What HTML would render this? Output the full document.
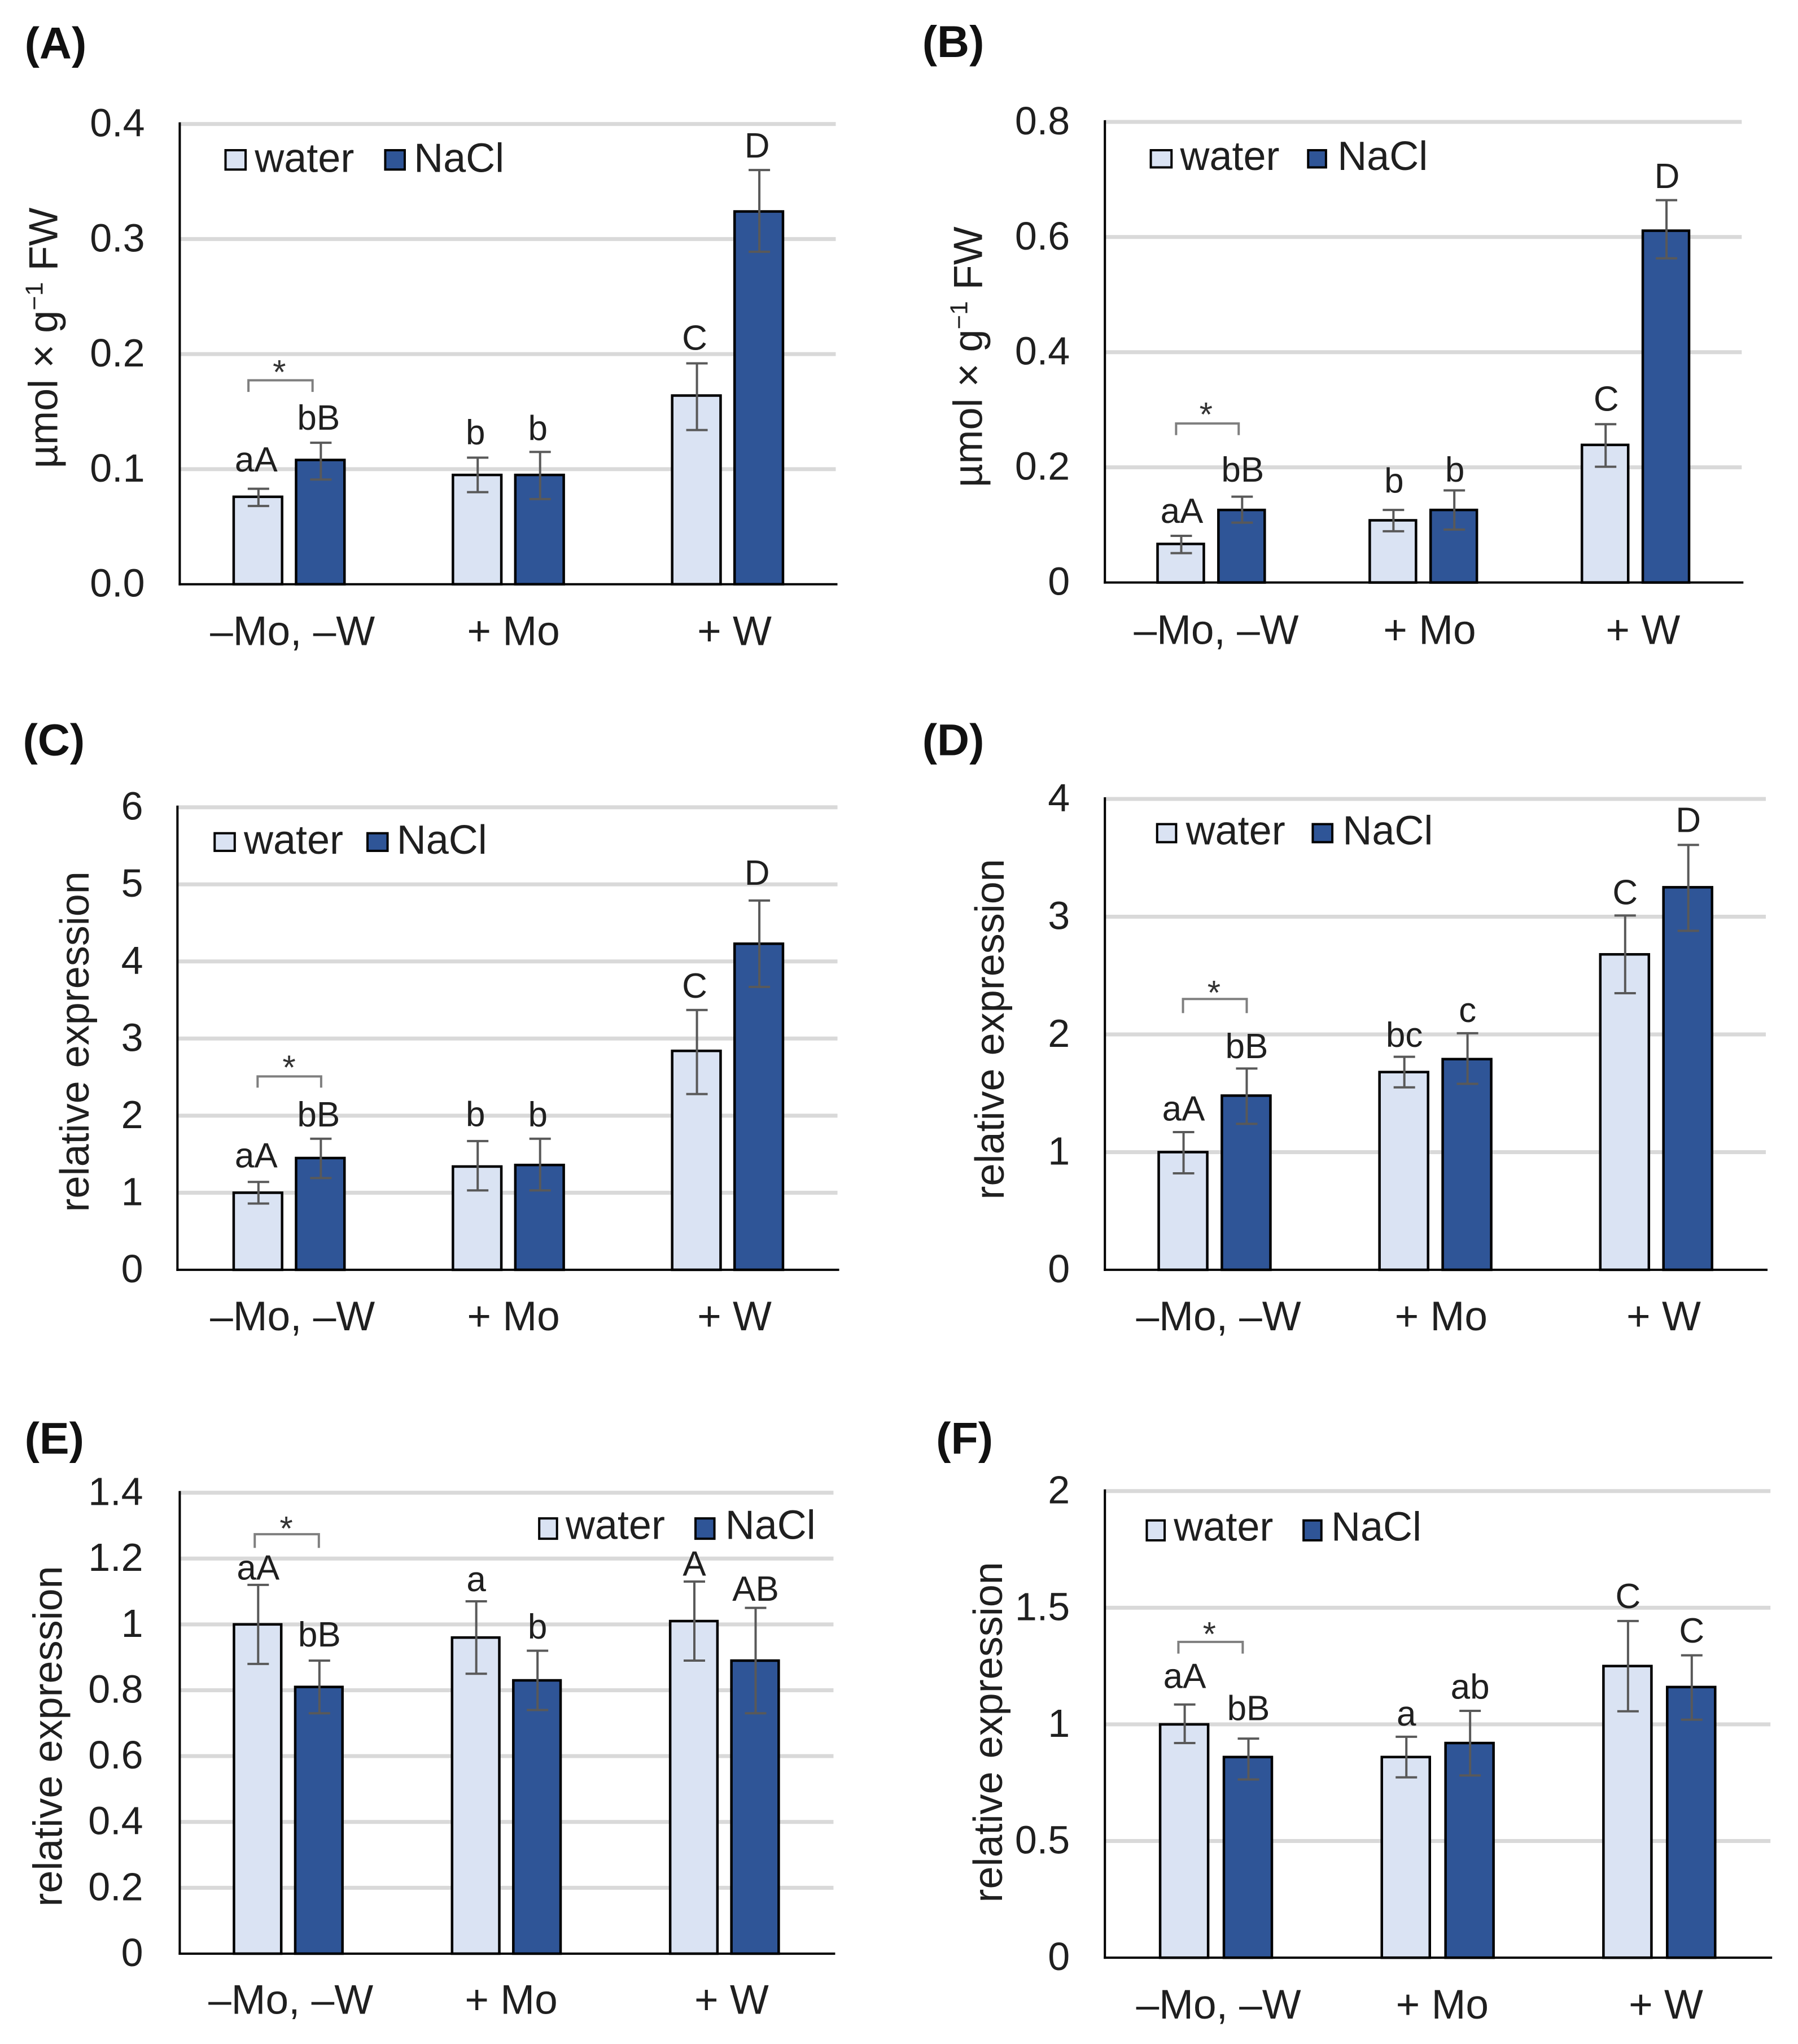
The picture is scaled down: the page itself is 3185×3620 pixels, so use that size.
<!DOCTYPE html>
<html lang="en">
<head>
<meta charset="utf-8">
<title>Six bar chart panels</title>
<style>
html,body{margin:0;padding:0;background:#fff;}
#figure{display:block;width:3185px;height:3620px;}
text{font-family:"Liberation Sans",Arial,sans-serif;}
</style>
</head>
<body>
<svg id="figure" xmlns="http://www.w3.org/2000/svg" width="3185" height="3620" viewBox="0 0 3185 3620"></svg>
<script>
const categories = ['–Mo, –W', '+ Mo', '+ W'];
const seriesNames = ['water', 'NaCl'];

const aTickLabels = ['0.0', '0.1', '0.2', '0.3', '0.4'];
const aWater = [0.076, 0.095, 0.164];
const aNaCl = [0.108, 0.095, 0.324];
const aWaterHigh = [0.083, 0.110, 0.192];
const aWaterLow = [0.068, 0.080, 0.134];
const aNaClHigh = [0.123, 0.115, 0.360];
const aNaClLow = [0.091, 0.074, 0.289];
const aWaterLetters = ['aA', 'b', 'C'];
const aNaClLetters = ['bB', 'b', 'D'];

const bTickLabels = ['0', '0.2', '0.4', '0.6', '0.8'];
const bWater = [0.067, 0.108, 0.239];
const bNaCl = [0.126, 0.126, 0.611];
const bWaterHigh = [0.081, 0.126, 0.275];
const bWaterLow = [0.051, 0.089, 0.201];
const bNaClHigh = [0.149, 0.160, 0.664];
const bNaClLow = [0.104, 0.092, 0.563];
const bWaterLetters = ['aA', 'b', 'C'];
const bNaClLetters = ['bB', 'b', 'D'];

const cTickLabels = ['0', '1', '2', '3', '4', '5', '6'];
const cWater = [1.00, 1.34, 2.84];
const cNaCl = [1.45, 1.36, 4.23];
const cWaterHigh = [1.14, 1.67, 3.37];
const cWaterLow = [0.86, 1.03, 2.28];
const cNaClHigh = [1.70, 1.70, 4.79];
const cNaClLow = [1.19, 1.03, 3.67];
const cWaterLetters = ['aA', 'b', 'C'];
const cNaClLetters = ['bB', 'b', 'D'];

const dTickLabels = ['0', '1', '2', '3', '4'];
const dWater = [1.00, 1.68, 2.68];
const dNaCl = [1.48, 1.79, 3.25];
const dWaterHigh = [1.17, 1.81, 3.01];
const dWaterLow = [0.82, 1.55, 2.35];
const dNaClHigh = [1.71, 2.01, 3.61];
const dNaClLow = [1.24, 1.58, 2.88];
const dWaterLetters = ['aA', 'bc', 'C'];
const dNaClLetters = ['bB', 'c', 'D'];

const eTickLabels = ['0', '0.2', '0.4', '0.6', '0.8', '1', '1.2', '1.4'];
const eWater = [1.00, 0.96, 1.01];
const eNaCl = [0.81, 0.83, 0.89];
const eWaterHigh = [1.12, 1.07, 1.13];
const eWaterLow = [0.88, 0.85, 0.89];
const eNaClHigh = [0.89, 0.92, 1.05];
const eNaClLow = [0.73, 0.74, 0.73];
const eWaterLetters = ['aA', 'a', 'A'];
const eNaClLetters = ['bB', 'b', 'AB'];

const fTickLabels = ['0', '0.5', '1', '1.5', '2'];
const fWater = [1.00, 0.86, 1.25];
const fNaCl = [0.86, 0.92, 1.16];
const fWaterHigh = [1.085, 0.947, 1.443];
const fWaterLow = [0.92, 0.773, 1.056];
const fNaClHigh = [0.939, 1.058, 1.296];
const fNaClLow = [0.764, 0.781, 1.02];
const fWaterLetters = ['aA', 'a', 'C'];
const fNaClLetters = ['bB', 'ab', 'C'];

const SVGNS = 'http://www.w3.org/2000/svg';
const root = document.getElementById('figure');
const WATER_FILL = '#dae3f3';
const NACL_FILL = '#2f5597';
const TEXT_COLOR = '#1f1f1f';

function make(parent, tag, attrs, text) {
  const el = document.createElementNS(SVGNS, tag);
  for (const k in attrs) el.setAttribute(k, attrs[k]);
  if (text !== undefined) el.textContent = text;
  parent.appendChild(el);
  return el;
}

function drawPanel(p) {
  const X = z => p.ox + z * p.sx;
  const Y = z => p.oy + z * p.sy;
  const tickValues = p.tickLabels.map(parseFloat);
  const yMax = tickValues[tickValues.length - 1];
  const base = Y(p.baseZ), top = Y(p.topZ);
  const yScale = v => base - (v / yMax) * (base - top);
  const groupX = i => X(p.groupZ + i * p.stepZ);
  const barX = (i, s) => groupX(i) + (s === 0 ? -1 : 1) * p.halfZ * p.sx;
  const barW = p.barZ * p.sx;

  const panel = make(root, 'g', {});
  
  

  const title = make(panel, 'text', {x: X(p.titleX), y: Y(p.titleY), 'font-size': 79, 'font-weight': 'bold', fill: '#111'}, '(' + p.id + ')');
  
  

  tickValues.forEach((v, i) => {
    if (i > 0) {
      const grid = make(panel, 'line', {x1: X(p.axisZ), x2: X(p.rightZ), y1: yScale(v), y2: yScale(v), stroke: '#d9d9d9', 'stroke-width': 7});
      
      
    }
    const tick = make(panel, 'text', {x: X(p.tickRightZ), y: yScale(v) + 22, 'font-size': 70, 'text-anchor': 'end', fill: TEXT_COLOR}, p.tickLabels[i]);
    
    
  });

  [p.water, p.nacl].forEach((vals, s) => {
    vals.forEach((v, i) => {
      const sw = 4.5;
      const bar = make(panel, 'rect', {
        x: barX(i, s) - barW / 2 + sw / 2,
        y: yScale(v),
        width: barW - sw,
        height: base - yScale(v),
        fill: s === 0 ? WATER_FILL : NACL_FILL,
        stroke: '#000',
        'stroke-width': sw
      });
      
      
    });
  });

  const yAxis = make(panel, 'line', {x1: X(p.axisZ), x2: X(p.axisZ), y1: top - 3, y2: base + 2, stroke: '#000', 'stroke-width': 4});
  
  
  const xAxis = make(panel, 'line', {x1: X(p.axisZ) - 2, x2: X(p.rightZ) + 3, y1: base, y2: base, stroke: '#000', 'stroke-width': 4});
  
  

  [[p.waterHigh, p.waterLow, p.waterLetters, p.waterGaps], [p.naclHigh, p.naclLow, p.naclLetters, p.naclGaps]].forEach((set, s) => {
    set[0].forEach((hi, i) => {
      const lo = set[1][i];
      const cx = barX(i, s) + 1;
      const err = make(panel, 'path', {
        d: 'M' + (cx - 19) + ' ' + yScale(hi) + 'H' + (cx + 19) + 'M' + cx + ' ' + yScale(hi) + 'V' + yScale(lo) + 'M' + (cx - 19) + ' ' + yScale(lo) + 'H' + (cx + 19),
        fill: 'none', stroke: '#595959', 'stroke-width': 4
      });
      
      
      const letter = make(panel, 'text', {
        x: cx + p.labelDx,
        y: yScale(hi) - set[3][i] * p.sy,
        'font-size': 62,
        'text-anchor': 'middle',
        fill: TEXT_COLOR
      }, set[2][i]);
      
      
    });
  });

  categories.forEach((c, i) => {
    const label = make(panel, 'text', {x: X(p.catZ[0] + i * p.catZ[1]), y: Y(p.catY), 'font-size': 73, 'text-anchor': 'middle', fill: TEXT_COLOR}, c);
    
    
  });

  const yTitle = make(panel, 'text', {
    transform: 'translate(' + X(p.yTitleX) + ' ' + Y(p.yTitleY) + ') rotate(-90)',
    'font-size': 72, 'text-anchor': 'middle', fill: TEXT_COLOR
  });
  
  
  if (p.unit) {
    make(yTitle, 'tspan', {}, 'µmol × g');
    make(yTitle, 'tspan', {dy: -26, 'font-size': 44}, '−1');
    make(yTitle, 'tspan', {dy: 26}, '\u00a0FW');
  } else {
    yTitle.setAttribute('word-spacing', 3);
    yTitle.textContent = 'relative expression';
  }

  const swY = Y(p.leg.y1), swH = Y(p.leg.y2) - swY;
  [[p.leg.s1, p.leg.s1e, p.leg.t1, WATER_FILL], [p.leg.s2, p.leg.s2e, p.leg.t2, NACL_FILL]].forEach((l, s) => {
    const sw = make(panel, 'rect', {x: X(l[0]) + 2, y: swY + 2, width: (l[1] - l[0]) * p.sx - 4, height: swH - 4, fill: l[3], stroke: '#000', 'stroke-width': 4});
    
    
    const lt = make(panel, 'text', {x: X(l[2]), y: Y(p.leg.base), 'font-size': 72, fill: TEXT_COLOR}, seriesNames[s]);
    
    
  });

  const br = p.bracket;
  const bracket = make(panel, 'path', {
    d: 'M' + X(br.x1) + ' ' + Y(br.bottom) + 'V' + Y(br.top) + 'H' + X(br.x2) + 'V' + Y(br.bottom),
    fill: 'none', stroke: '#7f7f7f', 'stroke-width': 4
  });
  
  
  const star = make(panel, 'text', {x: X(br.starX), y: Y(br.starY) + 29, 'font-size': 60, 'text-anchor': 'middle', fill: '#333333'}, '*');
  
  
}

const SX_L = 1590 / 1568, SX_R = 1595 / 1568;

drawPanel({
  id: 'A', ox: 0, oy: 0, sx: SX_L, sy: 1200 / 1568, unit: true,
  tickLabels: aTickLabels, water: aWater, nacl: aNaCl, waterHigh: aWaterHigh, waterLow: aWaterLow, naclHigh: aNaClHigh, naclLow: aNaClLow,
  waterLetters: aWaterLetters, naclLetters: aNaClLetters, waterGaps: [40, 31, 31], naclGaps: [30, 27, 29], labelDx: -4,
  axisZ: 314, rightZ: 1460, topZ: 287, baseZ: 1352, tickRightZ: 253,
  groupZ: 505, stepZ: 383, halfZ: 54.5, barZ: 89,
  catZ: [511, 386], catY: 1493, titleX: 43, titleY: 135, yTitleX: 100, yTitleY: 782,
  leg: {s1: 392, s1e: 431, t1: 445, s2: 671, s2e: 709, t2: 723, y1: 345, y2: 395, base: 398},
  bracket: {x1: 434, x2: 546, top: 880, bottom: 907, starX: 488, starY: 850}
});

drawPanel({
  id: 'B', ox: 1590, oy: 0, sx: SX_R, sy: 1200 / 1568, unit: true,
  tickLabels: bTickLabels, water: bWater, nacl: bNaCl, waterHigh: bWaterHigh, waterLow: bWaterLow, naclHigh: bNaClHigh, naclLow: bNaClLow,
  waterLetters: bWaterLetters, naclLetters: bNaClLetters, waterGaps: [30, 40, 31], naclGaps: [35, 20, 28], labelDx: 1,
  axisZ: 361, rightZ: 1470, topZ: 282, baseZ: 1348, tickRightZ: 300,
  groupZ: 546, stepZ: 369.5, halfZ: 53, barZ: 85,
  catZ: [555, 371.5], catY: 1490, titleX: 43, titleY: 132, yTitleX: 147, yTitleY: 826,
  leg: {s1: 439, s1e: 479, t1: 492, s2: 713, s2e: 748, t2: 766, y1: 345, y2: 390, base: 393},
  bracket: {x1: 485, x2: 594, top: 980, bottom: 1007, starX: 537, starY: 948}
});

drawPanel({
  id: 'C', ox: 0, oy: 1250, sx: SX_L, sy: 1150 / 1568, unit: false,
  tickLabels: cTickLabels, water: cWater, nacl: cNaCl, waterHigh: cWaterHigh, waterLow: cWaterLow, naclHigh: cNaClHigh, naclLow: cNaClLow,
  waterLetters: cWaterLetters, naclLetters: cNaClLetters, waterGaps: [35, 36, 30], naclGaps: [30, 30, 38], labelDx: -4,
  axisZ: 310, rightZ: 1463, topZ: 245, baseZ: 1362, tickRightZ: 250,
  groupZ: 505, stepZ: 383, halfZ: 54.5, barZ: 89,
  catZ: [511, 386], catY: 1508, titleX: 40, titleY: 119, yTitleX: 155, yTitleY: 811,
  leg: {s1: 373, s1e: 412, t1: 426, s2: 640, s2e: 679, t2: 693, y1: 305, y2: 353, base: 357},
  bracket: {x1: 450, x2: 561, top: 895, bottom: 922, starX: 505, starY: 862}
});

drawPanel({
  id: 'D', ox: 1590, oy: 1250, sx: SX_R, sy: 1150 / 1568, unit: false,
  tickLabels: dTickLabels, water: dWater, nacl: dNaCl, waterHigh: dWaterHigh, waterLow: dWaterLow, naclHigh: dNaClHigh, naclLow: dNaClLow,
  waterLetters: dWaterLetters, naclLetters: dNaClLetters, waterGaps: [28, 24, 27], naclGaps: [25, 27, 31], labelDx: 0,
  axisZ: 361, rightZ: 1512, topZ: 225, baseZ: 1362, tickRightZ: 300,
  groupZ: 552, stepZ: 384.5, halfZ: 55, barZ: 89,
  catZ: [559, 387.5], catY: 1508, titleX: 43, titleY: 119, yTitleX: 185, yTitleY: 781,
  leg: {s1: 450, s1e: 487, t1: 502, s2: 721, s2e: 759, t2: 775, y1: 283, y2: 332, base: 335},
  bracket: {x1: 497, x2: 608, top: 708, bottom: 742, starX: 551, starY: 681}
});

drawPanel({
  id: 'E', ox: 0, oy: 2500, sx: SX_L, sy: 1120 / 1568, unit: false,
  tickLabels: eTickLabels, water: eWater, nacl: eNaCl, waterHigh: eWaterHigh, waterLow: eWaterLow, naclHigh: eNaClHigh, naclLow: eNaClLow,
  waterLetters: eWaterLetters, naclLetters: eNaClLetters, waterGaps: [13, 25, 15], naclGaps: [35, 30, 18], labelDx: 0,
  axisZ: 314, rightZ: 1456, topZ: 201, baseZ: 1344, tickRightZ: 250,
  groupZ: 503.5, stepZ: 381, halfZ: 53.5, barZ: 87,
  catZ: [508, 385], catY: 1493, titleX: 43, titleY: 104, yTitleX: 108, yTitleY: 805,
  leg: {s1: 940, s1e: 975, t1: 988, s2: 1213, s2e: 1250, t2: 1267, y1: 262, y2: 318, base: 316},
  bracket: {x1: 445, x2: 557, top: 304, bottom: 338, starX: 500, starY: 278}
});

drawPanel({
  id: 'F', ox: 1590, oy: 2500, sx: SX_R, sy: 1120 / 1568, unit: false,
  tickLabels: fTickLabels, water: fWater, nacl: fNaCl, waterHigh: fWaterHigh, waterLow: fWaterLow, naclHigh: fNaClHigh, naclLow: fNaClLow,
  waterLetters: fWaterLetters, naclLetters: fNaClLetters, waterGaps: [41, 28, 32], naclGaps: [46, 30, 32], labelDx: 0,
  axisZ: 361, rightZ: 1520, topZ: 197, baseZ: 1354, tickRightZ: 300,
  groupZ: 554.5, stepZ: 386, halfZ: 55.5, barZ: 88,
  catZ: [559, 389.5], catY: 1505, titleX: 67, titleY: 104, yTitleX: 182, yTitleY: 795,
  leg: {s1: 432, s1e: 467, t1: 481, s2: 705, s2e: 740, t2: 755, y1: 267, y2: 322, base: 320},
  bracket: {x1: 489, x2: 601, top: 571, bottom: 600, starX: 543, starY: 540}
});
</script>
</body>
</html>
